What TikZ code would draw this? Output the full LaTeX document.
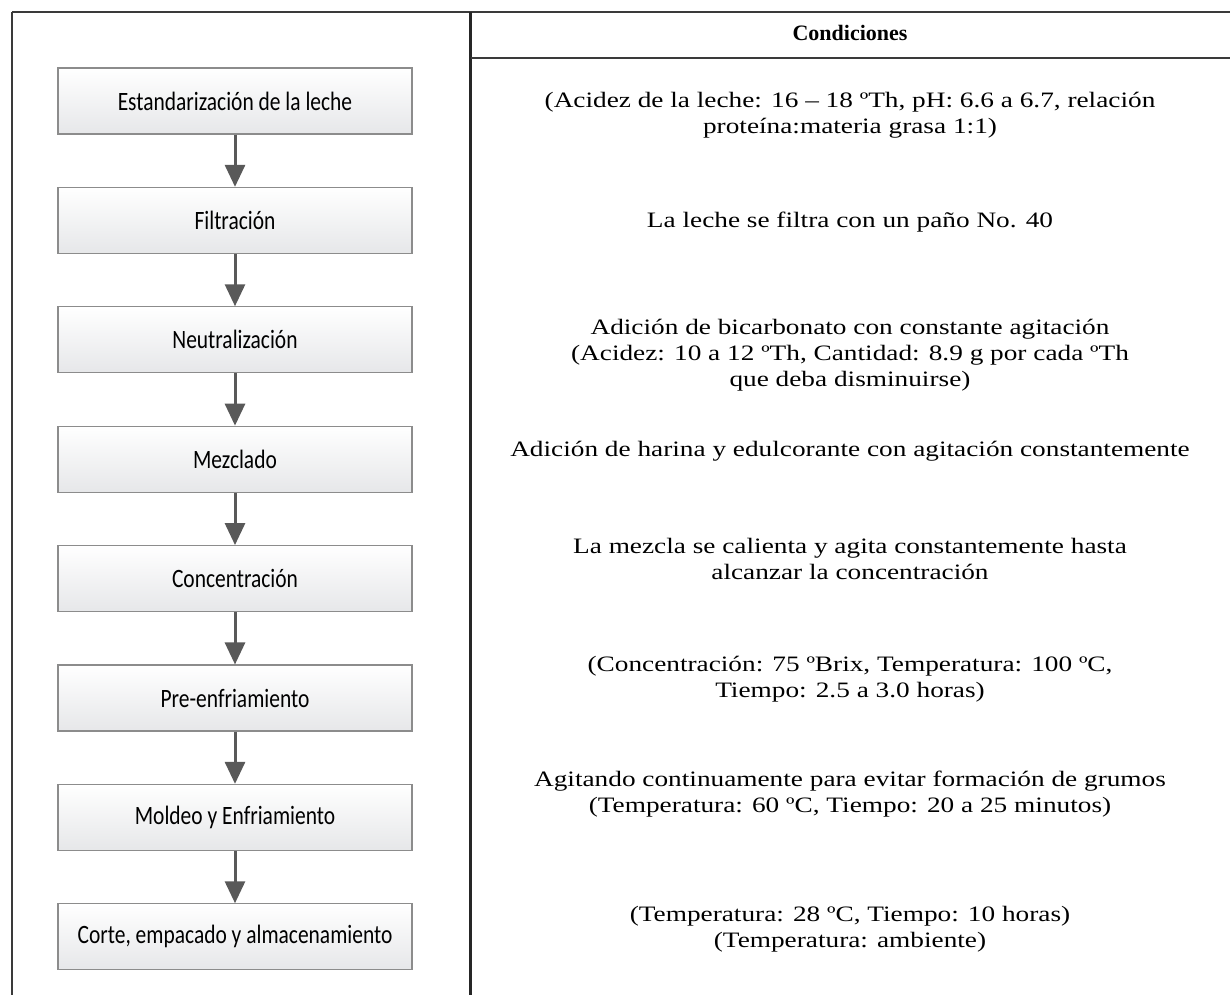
\documentclass[tikz,border=0pt]{standalone}
\usepackage{fontspec}
\setmainfont{Liberation Serif}
\newfontfamily\boxfont[FakeStretch=0.81]{Carlito}
\newfontfamily\condfont[FakeStretch=1.24]{Liberation Serif}
\usetikzlibrary{arrows.meta}
\definecolor{arrowgray}{HTML}{595959}
\definecolor{boxborder}{HTML}{8C8C8C}
\definecolor{boxbottom}{HTML}{E6E7E9}
\definecolor{rulecol}{HTML}{3A3A3A}
\tikzset{
  stepbox/.style={draw=boxborder, line width=1.1pt, top color=white, bottom color=boxbottom,
    minimum width=354pt, minimum height=66pt, inner sep=0pt,
    font=\boxfont\fontsize{26.5}{30}\selectfont},
  condtext/.style={align=center, inner sep=0pt, font=\condfont\fontsize{22}{26}\selectfont},
  flowarrow/.style={draw=arrowgray, line width=3pt, -{Triangle[width=20pt,length=22pt]}},
  rule/.style={draw=rulecol, line width=1.4pt},
  midrule/.style={draw=black!85, line width=2.6pt}
}
\begin{document}
\begin{tikzpicture}[x=1pt,y=-1pt]
\useasboundingbox (0,0) rectangle (1230,995);
% table lines
\coordinate (tl) at (12,12);
\coordinate (tr) at (1230,12);
\coordinate (bl) at (12,995);
\coordinate (mt) at (470.5,12);
\coordinate (mb) at (470.5,995);
\coordinate (hl) at (470.5,58);
\coordinate (hr) at (1230,58);
\draw[rule] (tl) -- (tr);
\draw[rule] (tl) -- (bl);
\draw[midrule] (mt) -- (mb);
\draw[rule] (hl) -- (hr);
\node[font=\bfseries\fontsize{22}{24}\selectfont] (hdr) at (850,33) {Condiciones};
% boxes
\node[stepbox] (b1) at (235,101) {Estandarización de la leche};
\node[stepbox] (b2) at (235,220.4) {Filtración};
\node[stepbox] (b3) at (235,339.8) {Neutralización};
\node[stepbox] (b4) at (235,459.2) {Mezclado};
\node[stepbox] (b5) at (235,578.6) {Concentración};
\node[stepbox] (b6) at (235,698) {Pre-enfriamiento};
\node[stepbox] (b7) at (235,817.4) {Moldeo y Enfriamiento};
\node[stepbox] (b8) at (235,936.8) {Corte, empacado y almacenamiento};
\foreach \a/\b in {b1/b2,b2/b3,b3/b4,b4/b5,b5/b6,b6/b7,b7/b8}
  \draw[flowarrow] (\a.south) -- (\b.north);
% conditions
\node[condtext] (c1) at (850,115) {(Acidez de la leche: 16 – 18 ºTh, pH: 6.6 a 6.7, relación\\proteína:materia grasa 1:1)};
\node[condtext] (c2) at (850,222) {La leche se filtra con un paño No. 40};
\node[condtext] (c3) at (850,355) {Adición de bicarbonato con constante agitación\\(Acidez: 10 a 12 ºTh, Cantidad: 8.9 g por cada ºTh\\que deba disminuirse)};
\node[condtext] (c4) at (850,451) {Adición de harina y edulcorante con agitación constantemente};
\node[condtext] (c5) at (850,558.5) {La mezcla se calienta y agita constantemente hasta\\alcanzar la concentración};
\node[condtext] (c6) at (850,679) {(Concentración: 75 ºBrix, Temperatura: 100 ºC,\\Tiempo: 2.5 a 3.0 horas)};
\node[condtext] (c7) at (850,794.5) {Agitando continuamente para evitar formación de grumos\\(Temperatura: 60 ºC, Tiempo: 20 a 25 minutos)};
\node[condtext] (c8) at (850,929) {(Temperatura: 28 ºC, Tiempo: 10 horas)\\(Temperatura: ambiente)};
\end{tikzpicture}
\end{document}
